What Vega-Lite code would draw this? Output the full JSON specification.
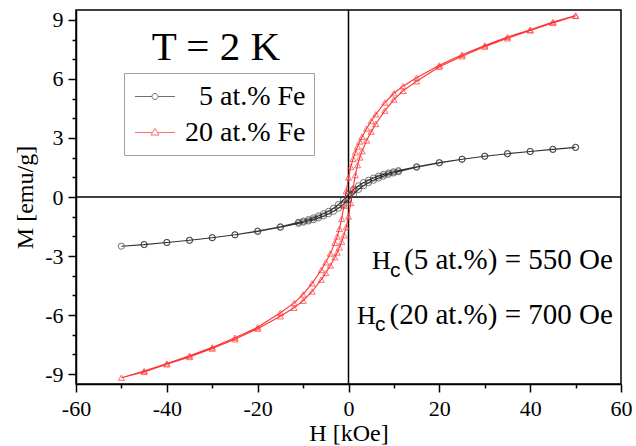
{
  "$schema": "https://vega.github.io/schema/vega-lite/v6.json",
  "width": 545,
  "height": 374,
  "autosize": "none",
  "padding": {"left": 76, "top": 10, "right": 15, "bottom": 62},
  "background": "white",
  "data": {"values": [{}]},
  "config": {
    "view": {"stroke": "black", "strokeWidth": 1.5},
    "font": "Liberation Serif",
    "axis": {
      "domainColor": "black", "domainWidth": 1.5, "tickColor": "black", "tickWidth": 1.5,
      "labelColor": "black", "titleColor": "black", "grid": false,
      "labelFont": "Liberation Serif", "titleFont": "Liberation Serif",
      "labelFontSize": 22, "titleFontSize": 24, "titleFontWeight": "normal",
      "labelFlush": false, "labelOverlap": false
    },
    "legend": {
      "orient": "none", "legendX": 48, "legendY": 63,
      "strokeColor": "#a0a0a0", "padding": 8, "fillColor": "white",
      "labelFont": "Liberation Serif", "labelFontSize": 28, "labelColor": "black",
      "labelAlign": "right", "labelLimit": 0,
      "symbolSize": 900, "symbolStrokeWidth": 1, "symbolOffset": 7.5, "labelOffset": 135, "rowPadding": 6
    }
  },
  "resolve": {"scale": {"color": "independent", "shape": "independent"}, "axis": {"y": "independent"}},
  "datasets": {
    "loops": [
      {"series":"5 at.% Fe","i":0,"H":50,"M":2.52},{"series":"5 at.% Fe","i":1,"H":45,"M":2.42},{"series":"5 at.% Fe","i":2,"H":40,"M":2.31},{"series":"5 at.% Fe","i":3,"H":35,"M":2.20},{"series":"5 at.% Fe","i":4,"H":30,"M":2.07},{"series":"5 at.% Fe","i":5,"H":25,"M":1.92},{"series":"5 at.% Fe","i":6,"H":20,"M":1.75},{"series":"5 at.% Fe","i":7,"H":15,"M":1.54},{"series":"5 at.% Fe","i":8,"H":11,"M":1.34},{"series":"5 at.% Fe","i":9,"H":9.9,"M":1.28},{"series":"5 at.% Fe","i":10,"H":8.8,"M":1.22},{"series":"5 at.% Fe","i":11,"H":7.7,"M":1.15},{"series":"5 at.% Fe","i":12,"H":6.6,"M":1.06},{"series":"5 at.% Fe","i":13,"H":5.5,"M":0.96},{"series":"5 at.% Fe","i":14,"H":4.4,"M":0.85},{"series":"5 at.% Fe","i":15,"H":3.3,"M":0.73},{"series":"5 at.% Fe","i":16,"H":2.2,"M":0.57},{"series":"5 at.% Fe","i":17,"H":1.1,"M":0.38},{"series":"5 at.% Fe","i":18,"H":0,"M":0.14},{"series":"5 at.% Fe","i":19,"H":-1.1,"M":-0.14},{"series":"5 at.% Fe","i":20,"H":-2.2,"M":-0.38},{"series":"5 at.% Fe","i":21,"H":-3.3,"M":-0.57},{"series":"5 at.% Fe","i":22,"H":-4.4,"M":-0.73},{"series":"5 at.% Fe","i":23,"H":-5.5,"M":-0.85},{"series":"5 at.% Fe","i":24,"H":-6.6,"M":-0.96},{"series":"5 at.% Fe","i":25,"H":-7.7,"M":-1.06},{"series":"5 at.% Fe","i":26,"H":-8.8,"M":-1.15},{"series":"5 at.% Fe","i":27,"H":-9.9,"M":-1.22},{"series":"5 at.% Fe","i":28,"H":-11,"M":-1.28},{"series":"5 at.% Fe","i":29,"H":-15,"M":-1.51},{"series":"5 at.% Fe","i":30,"H":-20,"M":-1.73},{"series":"5 at.% Fe","i":31,"H":-25,"M":-1.92},{"series":"5 at.% Fe","i":32,"H":-30,"M":-2.07},{"series":"5 at.% Fe","i":33,"H":-35,"M":-2.20},{"series":"5 at.% Fe","i":34,"H":-40,"M":-2.31},{"series":"5 at.% Fe","i":35,"H":-45,"M":-2.41},{"series":"5 at.% Fe","i":36,"H":-50,"M":-2.50},
      {"series":"5 at.% Fe","i":37,"H":-45,"M":-2.42},{"series":"5 at.% Fe","i":38,"H":-40,"M":-2.31},{"series":"5 at.% Fe","i":39,"H":-35,"M":-2.20},{"series":"5 at.% Fe","i":40,"H":-30,"M":-2.07},{"series":"5 at.% Fe","i":41,"H":-25,"M":-1.92},{"series":"5 at.% Fe","i":42,"H":-20,"M":-1.75},{"series":"5 at.% Fe","i":43,"H":-15,"M":-1.54},{"series":"5 at.% Fe","i":44,"H":-11,"M":-1.34},{"series":"5 at.% Fe","i":45,"H":-9.9,"M":-1.28},{"series":"5 at.% Fe","i":46,"H":-8.8,"M":-1.22},{"series":"5 at.% Fe","i":47,"H":-7.7,"M":-1.15},{"series":"5 at.% Fe","i":48,"H":-6.6,"M":-1.06},{"series":"5 at.% Fe","i":49,"H":-5.5,"M":-0.96},{"series":"5 at.% Fe","i":50,"H":-4.4,"M":-0.85},{"series":"5 at.% Fe","i":51,"H":-3.3,"M":-0.73},{"series":"5 at.% Fe","i":52,"H":-2.2,"M":-0.57},{"series":"5 at.% Fe","i":53,"H":-1.1,"M":-0.38},{"series":"5 at.% Fe","i":54,"H":0,"M":-0.14},{"series":"5 at.% Fe","i":55,"H":1.1,"M":0.14},{"series":"5 at.% Fe","i":56,"H":2.2,"M":0.38},{"series":"5 at.% Fe","i":57,"H":3.3,"M":0.57},{"series":"5 at.% Fe","i":58,"H":4.4,"M":0.73},{"series":"5 at.% Fe","i":59,"H":5.5,"M":0.85},{"series":"5 at.% Fe","i":60,"H":6.6,"M":0.96},{"series":"5 at.% Fe","i":61,"H":7.7,"M":1.06},{"series":"5 at.% Fe","i":62,"H":8.8,"M":1.15},{"series":"5 at.% Fe","i":63,"H":9.9,"M":1.22},{"series":"5 at.% Fe","i":64,"H":11,"M":1.28},{"series":"5 at.% Fe","i":65,"H":15,"M":1.51},{"series":"5 at.% Fe","i":66,"H":20,"M":1.73},{"series":"5 at.% Fe","i":67,"H":25,"M":1.92},{"series":"5 at.% Fe","i":68,"H":30,"M":2.07},{"series":"5 at.% Fe","i":69,"H":35,"M":2.20},{"series":"5 at.% Fe","i":70,"H":40,"M":2.31},{"series":"5 at.% Fe","i":71,"H":45,"M":2.42},{"series":"5 at.% Fe","i":72,"H":50,"M":2.52},
      {"series":"20 at.% Fe","i":0,"H":50,"M":9.22},{"series":"20 at.% Fe","i":1,"H":45,"M":8.89},{"series":"20 at.% Fe","i":2,"H":40,"M":8.50},{"series":"20 at.% Fe","i":3,"H":35,"M":8.13},{"series":"20 at.% Fe","i":4,"H":30,"M":7.70},{"series":"20 at.% Fe","i":5,"H":25,"M":7.23},{"series":"20 at.% Fe","i":6,"H":20,"M":6.69},{"series":"20 at.% Fe","i":7,"H":15,"M":6.06},{"series":"20 at.% Fe","i":8,"H":12,"M":5.63},{"series":"20 at.% Fe","i":9,"H":10,"M":5.27},{"series":"20 at.% Fe","i":10,"H":8,"M":4.80},{"series":"20 at.% Fe","i":11,"H":6,"M":4.20},{"series":"20 at.% Fe","i":12,"H":5,"M":3.86},{"series":"20 at.% Fe","i":13,"H":4,"M":3.48},{"series":"20 at.% Fe","i":14,"H":3,"M":3.06},{"series":"20 at.% Fe","i":15,"H":2.5,"M":2.82},{"series":"20 at.% Fe","i":16,"H":2,"M":2.56},{"series":"20 at.% Fe","i":17,"H":1.5,"M":2.27},{"series":"20 at.% Fe","i":18,"H":1,"M":1.94},{"series":"20 at.% Fe","i":19,"H":0.5,"M":1.53},{"series":"20 at.% Fe","i":20,"H":0,"M":0.99},{"series":"20 at.% Fe","i":21,"H":-0.5,"M":0.30},{"series":"20 at.% Fe","i":22,"H":-1,"M":-0.45},{"series":"20 at.% Fe","i":23,"H":-1.5,"M":-1.11},{"series":"20 at.% Fe","i":24,"H":-2,"M":-1.62},{"series":"20 at.% Fe","i":25,"H":-2.5,"M":-2.01},{"series":"20 at.% Fe","i":26,"H":-3,"M":-2.33},{"series":"20 at.% Fe","i":27,"H":-4,"M":-2.87},{"series":"20 at.% Fe","i":28,"H":-5,"M":-3.32},{"series":"20 at.% Fe","i":29,"H":-6,"M":-3.71},{"series":"20 at.% Fe","i":30,"H":-8,"M":-4.39},{"series":"20 at.% Fe","i":31,"H":-10,"M":-4.95},{"series":"20 at.% Fe","i":32,"H":-12,"M":-5.39},{"series":"20 at.% Fe","i":33,"H":-15,"M":-5.88},{"series":"20 at.% Fe","i":34,"H":-20,"M":-6.62},{"series":"20 at.% Fe","i":35,"H":-25,"M":-7.15},{"series":"20 at.% Fe","i":36,"H":-30,"M":-7.64},{"series":"20 at.% Fe","i":37,"H":-35,"M":-8.06},{"series":"20 at.% Fe","i":38,"H":-40,"M":-8.46},{"series":"20 at.% Fe","i":39,"H":-45,"M":-8.84},{"series":"20 at.% Fe","i":40,"H":-50,"M":-9.18},
      {"series":"20 at.% Fe","i":41,"H":-45,"M":-8.89},{"series":"20 at.% Fe","i":42,"H":-40,"M":-8.50},{"series":"20 at.% Fe","i":43,"H":-35,"M":-8.13},{"series":"20 at.% Fe","i":44,"H":-30,"M":-7.70},{"series":"20 at.% Fe","i":45,"H":-25,"M":-7.23},{"series":"20 at.% Fe","i":46,"H":-20,"M":-6.69},{"series":"20 at.% Fe","i":47,"H":-15,"M":-6.06},{"series":"20 at.% Fe","i":48,"H":-12,"M":-5.63},{"series":"20 at.% Fe","i":49,"H":-10,"M":-5.27},{"series":"20 at.% Fe","i":50,"H":-8,"M":-4.80},{"series":"20 at.% Fe","i":51,"H":-6,"M":-4.20},{"series":"20 at.% Fe","i":52,"H":-5,"M":-3.86},{"series":"20 at.% Fe","i":53,"H":-4,"M":-3.48},{"series":"20 at.% Fe","i":54,"H":-3,"M":-3.06},{"series":"20 at.% Fe","i":55,"H":-2.5,"M":-2.82},{"series":"20 at.% Fe","i":56,"H":-2,"M":-2.56},{"series":"20 at.% Fe","i":57,"H":-1.5,"M":-2.27},{"series":"20 at.% Fe","i":58,"H":-1,"M":-1.94},{"series":"20 at.% Fe","i":59,"H":-0.5,"M":-1.53},{"series":"20 at.% Fe","i":60,"H":0,"M":-0.99},{"series":"20 at.% Fe","i":61,"H":0.5,"M":-0.30},{"series":"20 at.% Fe","i":62,"H":1,"M":0.45},{"series":"20 at.% Fe","i":63,"H":1.5,"M":1.11},{"series":"20 at.% Fe","i":64,"H":2,"M":1.62},{"series":"20 at.% Fe","i":65,"H":2.5,"M":2.01},{"series":"20 at.% Fe","i":66,"H":3,"M":2.33},{"series":"20 at.% Fe","i":67,"H":4,"M":2.87},{"series":"20 at.% Fe","i":68,"H":5,"M":3.32},{"series":"20 at.% Fe","i":69,"H":6,"M":3.71},{"series":"20 at.% Fe","i":70,"H":8,"M":4.39},{"series":"20 at.% Fe","i":71,"H":10,"M":4.95},{"series":"20 at.% Fe","i":72,"H":12,"M":5.39},{"series":"20 at.% Fe","i":73,"H":15,"M":5.88},{"series":"20 at.% Fe","i":74,"H":20,"M":6.62},{"series":"20 at.% Fe","i":75,"H":25,"M":7.15},{"series":"20 at.% Fe","i":76,"H":30,"M":7.64},{"series":"20 at.% Fe","i":77,"H":35,"M":8.06},{"series":"20 at.% Fe","i":78,"H":40,"M":8.46},{"series":"20 at.% Fe","i":79,"H":45,"M":8.84},{"series":"20 at.% Fe","i":80,"H":50,"M":9.20}
    ]
  },
  "layer": [
    {
      "mark": {"type": "rule", "color": "black", "strokeWidth": 1.5},
      "encoding": {"x": {"datum": 0, "type": "quantitative"}}
    },
    {
      "mark": {"type": "rule", "color": "black", "strokeWidth": 1.5},
      "encoding": {
        "y": {
          "datum": 0, "type": "quantitative",
          "axis": {
            "orient": "left", "values": [-8,-7,-5,-4,-2,-1,1,2,4,5,7,8],
            "labels": false, "domain": false, "ticks": true, "tickSize": 4, "title": null, "grid": false
          }
        }
      }
    },
    {
      "data": {"name": "loops"},
      "mark": {"type": "line", "strokeWidth": 1.1},
      "encoding": {
        "x": {
          "field": "H", "type": "quantitative",
          "scale": {"domain": [-60, 60], "nice": false, "zero": false},
          "axis": {
            "title": "H [kOe]",
            "values": [-60,-55,-50,-45,-40,-35,-30,-25,-20,-15,-10,-5,0,5,10,15,20,25,30,35,40,45,50,55,60],
            "labelExpr": "datum.value % 20 === 0 ? '' + datum.value : ''",
            "tickSize": {"condition": {"test": "datum.value % 20 === 0", "value": 8}, "value": 4},
            "labelPadding": 6, "labelOverlap": false,
            "titleX": 272.5, "titleY": 56, "titleBaseline": "alphabetic", "titleAlign": "center"
          }
        },
        "y": {
          "field": "M", "type": "quantitative",
          "scale": {"domain": [-9.5, 9.5], "nice": false, "zero": false},
          "axis": {
            "orient": "left",
            "title": "M [emu/g]",
            "values": [-9,-6,-3,0,3,6,9],
            "labelExpr": "'' + datum.value",
            "tickSize": 8,
            "labelPadding": 5, "labelOverlap": false,
            "titleAngle": 270, "titleX": -44, "titleY": 187, "titleBaseline": "alphabetic", "titleAlign": "center"
          }
        },
        "order": {"field": "i", "type": "quantitative"},
        "color": {
          "field": "series", "type": "nominal",
          "scale": {"domain": ["5 at.% Fe", "20 at.% Fe"], "range": ["#333333", "#ff3333"]},
          "legend": null
        }
      }
    },
    {
      "data": {"name": "loops"},
      "mark": {"type": "point", "filled": false, "size": 38, "strokeWidth": 1},
      "encoding": {
        "x": {"field": "H", "type": "quantitative"},
        "y": {"field": "M", "type": "quantitative", "axis": null},
        "color": {
          "field": "series", "type": "nominal",
          "scale": {"domain": ["5 at.% Fe", "20 at.% Fe"], "range": ["#333333", "#ff3333"]},
          "legend": null
        },
        "shape": {
          "field": "series", "type": "nominal",
          "scale": {"domain": ["5 at.% Fe", "20 at.% Fe"], "range": ["circle", "triangle-up"]},
          "legend": null
        }
      }
    },
    {
      "data": {"name": "loops"},
      "transform": [{"filter": "false"}],
      "mark": {"type": "point", "filled": false, "size": 900, "strokeWidth": 1},
      "encoding": {
        "x": {"field": "H", "type": "quantitative"},
        "y": {"field": "M", "type": "quantitative", "axis": null},
        "color": {
          "field": "series", "type": "nominal",
          "scale": {"domain": ["5 at.% Fe", "20 at.% Fe"], "range": ["#333333", "#ff3333"]},
          "legend": {"title": null}
        },
        "shape": {
          "field": "series", "type": "nominal",
          "scale": {
            "domain": ["5 at.% Fe", "20 at.% Fe"],
            "range": [
              "M-1.333,0H-0.2M0.2,0H1.333M-0.2,0A0.2,0.2 0 1,1 0.2,0A0.2,0.2 0 1,1 -0.2,0Z",
              "M-1.333,0H-0.166M0.166,0H1.333M0,-0.27L0.27,0.17L-0.27,0.17Z"
            ]
          },
          "legend": {"title": null}
        }
      }
    },
    {
      "mark": {"type": "text", "text": "T = 2 K", "font": "Liberation Serif", "fontSize": 41, "align": "center", "baseline": "alphabetic", "color": "black"},
      "encoding": {"x": {"datum": -29.2, "type": "quantitative"}, "y": {"datum": 6.98, "type": "quantitative", "axis": null}}
    },
    {
      "mark": {"type": "text", "text": "H", "font": "Liberation Serif", "fontSize": 26, "align": "left", "baseline": "alphabetic", "color": "black"},
      "encoding": {"x": {"datum": 5.18, "type": "quantitative"}, "y": {"datum": -3.66, "type": "quantitative", "axis": null}}
    },
    {
      "mark": {"type": "text", "text": "c", "font": "Liberation Sans", "fontSize": 21, "align": "left", "baseline": "alphabetic", "dx": 18, "dy": 8, "color": "black"},
      "encoding": {"x": {"datum": 5.18, "type": "quantitative"}, "y": {"datum": -3.66, "type": "quantitative", "axis": null}}
    },
    {
      "mark": {"type": "text", "text": "(5 at.%) = 550 Oe", "font": "Liberation Serif", "fontSize": 29, "align": "right", "baseline": "alphabetic", "color": "black"},
      "encoding": {"x": {"datum": 58.2, "type": "quantitative"}, "y": {"datum": -3.66, "type": "quantitative", "axis": null}}
    },
    {
      "mark": {"type": "text", "text": "H", "font": "Liberation Serif", "fontSize": 26, "align": "left", "baseline": "alphabetic", "color": "black"},
      "encoding": {"x": {"datum": 1.87, "type": "quantitative"}, "y": {"datum": -6.45, "type": "quantitative", "axis": null}}
    },
    {
      "mark": {"type": "text", "text": "c", "font": "Liberation Sans", "fontSize": 21, "align": "left", "baseline": "alphabetic", "dx": 18, "dy": 7, "color": "black"},
      "encoding": {"x": {"datum": 1.87, "type": "quantitative"}, "y": {"datum": -6.45, "type": "quantitative", "axis": null}}
    },
    {
      "mark": {"type": "text", "text": "(20 at.%) = 700 Oe", "font": "Liberation Serif", "fontSize": 29, "align": "right", "baseline": "alphabetic", "color": "black"},
      "encoding": {"x": {"datum": 58.2, "type": "quantitative"}, "y": {"datum": -6.45, "type": "quantitative", "axis": null}}
    }
  ]
}
